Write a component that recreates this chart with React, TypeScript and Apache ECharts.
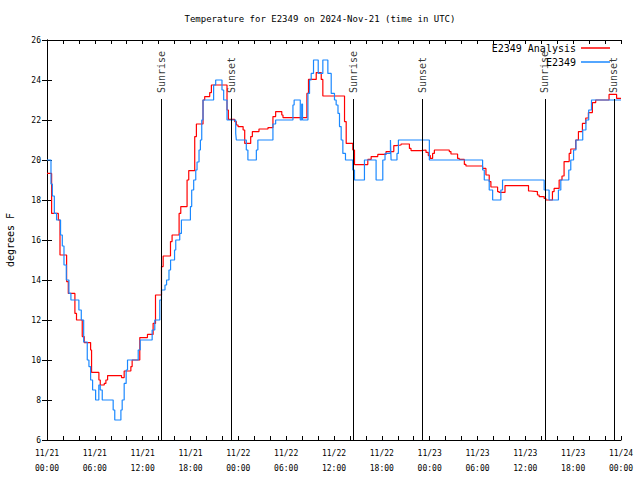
import React, { useEffect, useRef } from "react";
import * as echarts from "echarts";

// Hours since 2024-11-21 00:00 UTC and temperatures (deg F)
const obsHours = [
  0, 0.5, 0.67, 0.92, 1.2, 1.7, 1.92, 2.13, 2.42, 2.75, 3.0, 4.0, 4.3, 4.6, 5.05, 5.26, 5.47, 5.72, 6.1, 6.5,
  6.68, 6.93, 8.3, 8.5, 9.27, 9.43, 9.68, 9.93, 10.1, 11.44, 11.69, 13.19, 13.52, 14.15, 14.36, 14.8, 15.0, 15.3, 15.5, 16.0,
  16.15, 16.65, 16.86, 17.99, 18.15, 18.4, 18.66, 18.82, 19.07, 19.24, 19.41, 19.57, 20.9, 21.16, 21.95, 22.16, 22.58, 23.67, 23.75, 25.0,
  25.2, 26.26, 26.45, 28.34, 28.68, 30.85, 31.0, 31.77, 31.95, 32.05, 32.73, 32.93, 33.14, 33.43, 34.02, 34.6, 35.23, 35.65, 36.06, 36.27,
  36.5, 36.69, 36.9, 37.11, 37.44, 38.36, 38.57, 39.82, 41.28, 42.12, 42.4, 43.08, 43.16, 43.9, 44.08, 47.96, 54.64, 54.85, 55.47, 55.9,
  56.93, 57.14, 62.36, 62.98, 64.15, 64.45, 65.45, 65.7, 66.05, 66.35, 67.2, 67.6, 67.95, 68.3, 72,
];
const obsTemps = [
  20, 18.8, 18.2, 17.33, 17, 16.25, 15.7, 14.75, 14, 13.33, 13, 12.5, 12, 10.9, 10, 9.67, 9, 8.5, 8, 8.75,
  8.5, 8, 7.5, 7, 7.5, 8, 8.83, 9.5, 10, 10.5, 11, 11.5, 12, 13, 13.5, 13.75, 14, 14.5, 15, 15.5,
  16, 16.33, 17, 17.67, 18.5, 19, 19.5, 19.9, 20.5, 21, 22, 23, 23.75, 24, 23.5, 23, 22, 21.33, 21, 20.5,
  20, 20.5, 21, 21.8, 22, 22.75, 23, 22, 22.8, 22, 23.33, 24, 24.33, 25, 24.33, 25, 24.33, 23.33, 23, 22.75,
  22.33, 21.67, 21, 20.33, 20, 19.5, 19, 20, 19, 20, 20.33, 21, 20, 20.33, 21, 20, 19.5, 19, 18.5, 18,
  18.5, 19, 18.5, 18, 18.5, 19, 19.5, 20, 20.5, 21, 21.5, 22, 22.5, 23, 23,
];

const anaHours = [
  0, 0.58, 1.42, 1.63, 2.46, 2.67, 3.5, 3.7, 4.42, 4.67, 5.47, 5.59, 6.51, 6.68, 7.18, 7.39, 7.6, 9.35, 9.68, 10.52,
  10.68, 11.64, 12.6, 13.31, 13.61, 14.36, 14.57, 15.49, 15.69, 16.57, 16.78, 17.57, 17.78, 18.53, 18.74, 19.57, 19.78, 20.41, 20.62, 22.58,
  22.75, 23.54, 23.75, 23.96, 24.6, 24.8, 25.55, 25.76, 26.59, 27.72, 28.34, 28.68, 29.45, 29.6, 32.6, 32.8, 33.77, 34.4, 34.6, 37.32,
  37.53, 38.36, 38.57, 40.24, 40.66, 41.49, 42.53, 43.5, 43.79, 44.41, 45.46, 45.66, 46.92, 47.54, 47.83, 48.08, 48.37, 48.59, 50.46, 50.67,
  51.5, 51.71, 52.35, 52.55, 54.64, 55.06, 55.47, 55.68, 56.52, 56.7, 57.45, 60.4, 60.69, 61.52, 61.73, 62.36, 62.57, 63.4, 63.61, 64.24,
  64.6, 64.86, 65.5, 65.7, 66.32, 66.66, 67.16, 67.58, 67.91, 68.41, 68.83, 70.5, 71.45, 72,
];
const anaTemps = [
  19.33, 17.33, 17, 15.25, 13.92, 13.33, 12.33, 12, 11.17, 10.87, 10.5, 9.38, 9.0, 8.75, 8.83, 9.0, 9.22, 9.12, 9.45, 9.67,
  10, 11.12, 11.28, 11.83, 13.25, 14.67, 15.2, 15.92, 16.25, 17.33, 17.67, 19, 19.47, 21.17, 21.8, 23, 23.17, 23.37, 23.75, 22.5,
  22.03, 21.92, 21.75, 21.67, 21.5, 20.83, 21.17, 21.42, 21.55, 21.62, 22.17, 22.42, 22.25, 22.12, 23.33, 24.03, 24.37, 24.03, 23.2, 21.92,
  20.83, 20.5, 19.77, 20.03, 20.17, 20.28, 20.42, 20.72, 20.75, 20.8, 20.58, 20.47, 20.5, 20.38, 20.22, 20.08, 20.33, 20.5, 20.42, 20.3,
  20.08, 20.03, 19.78, 19.7, 19.58, 19.25, 18.92, 18.65, 18.42, 18.38, 18.72, 18.45, 18.42, 18.25, 18.17, 18.08, 18, 18.42, 18.58, 19,
  19.2, 19.92, 20.33, 20.55, 21, 21.42, 21.83, 22.1, 22.37, 22.87, 23, 23.28, 23.08, 23.08,
];

const eventNames = ["Sunrise", "Sunset", "Sunrise", "Sunset", "Sunrise", "Sunset"];
const eventHours = [14.33, 23.15, 38.42, 47.08, 62.45, 71.12];
const eventTop = 23.05;

const Y_MIN = 6;
const Y_MAX = 26;
const Y_STEP = 2;
const X_MIN = 0;
const X_MAX = 72;
const X_STEP = 2;

const MONO = "DejaVu Sans Mono";

function pad(n: number) {
  return n < 10 ? "0" + n : "" + n;
}

function xLabel(v: number) {
  if (Math.abs(v % 6) > 1e-6) return "";
  const day = 21 + Math.floor(v / 24);
  const hh = Math.round(v % 24);
  return `11/${day}\n${pad(hh)}:00`;
}

export default function App() {
  const ref = useRef<HTMLDivElement>(null);
  useEffect(() => {
    if (!ref.current) return;
    const chart = echarts.init(ref.current, null, { renderer: "svg" });
    const axisLine = { show: true, lineStyle: { color: "#000", width: 1 } };
    const obsData = obsHours.map((h, i) => [h, obsTemps[i]]);
    const anaData = anaHours.map((h, i) => [h, anaTemps[i]]);
    const evLines = eventHours.map((h) => [
      { coord: [h, Y_MIN] },
      { coord: [h, eventTop] },
    ]);
    const evLabels = eventHours.map((h, i) => ({ value: [h, eventTop], name: eventNames[i] }));
    chart.setOption({
      animation: false,
      backgroundColor: "#fff",
      title: {
        text: "Temperature for E2349 on 2024-Nov-21 (time in UTC)",
        left: "center",
        top: 14,
        padding: 0,
        textStyle: { fontFamily: MONO, fontSize: 9, fontWeight: "normal", color: "#000" },
      },
      legend: [
        {
          data: ["E2349 Analysis"],
          right: 30,
          top: 43,
          padding: 0,
          align: "right",
          icon: "rect",
          itemWidth: 29,
          itemHeight: 1.5,
          selectedMode: false,
          textStyle: { fontFamily: MONO, fontSize: 10, color: "#000" },
        },
        {
          data: ["E2349"],
          right: 30,
          top: 57,
          padding: 0,
          align: "right",
          icon: "rect",
          itemWidth: 29,
          itemHeight: 1.5,
          selectedMode: false,
          textStyle: { fontFamily: MONO, fontSize: 10, color: "#000" },
        },
      ],
      grid: { left: 47, right: 19, top: 40, bottom: 40, containLabel: false, outerBoundsMode: "none" },
      xAxis: [
        {
          type: "value",
          min: X_MIN,
          max: X_MAX,
          interval: X_STEP,
          axisLine,
          axisTick: { show: true, inside: true, length: 4, lineStyle: { color: "#000" } },
          splitLine: { show: false },
          axisLabel: {
            formatter: xLabel,
            fontFamily: MONO,
            fontSize: 8,
            lineHeight: 15,
            margin: 6,
            color: "#000",
            showMinLabel: true,
            showMaxLabel: true,
          },
        },
        {
          type: "value",
          position: "top",
          min: X_MIN,
          max: X_MAX,
          interval: X_STEP,
          axisLine,
          axisTick: { show: true, inside: true, length: 4, lineStyle: { color: "#000" } },
          splitLine: { show: false },
          axisLabel: { show: false },
        },
      ],
      yAxis: [
        {
          type: "value",
          min: Y_MIN,
          max: Y_MAX,
          interval: Y_STEP,
          name: "degrees F",
          nameLocation: "middle",
          nameGap: 32,
          nameTextStyle: { fontFamily: MONO, fontSize: 10, color: "#000" },
          axisLine,
          axisTick: { show: true, inside: true, length: 5, lineStyle: { color: "#000" } },
          splitLine: { show: false },
          axisLabel: { fontFamily: MONO, fontSize: 8, margin: 6, color: "#000" },
        },
        {
          type: "value",
          position: "right",
          min: Y_MIN,
          max: Y_MAX,
          interval: Y_STEP,
          axisLine,
          axisTick: { show: true, inside: true, length: 5, lineStyle: { color: "#000" } },
          splitLine: { show: false },
          axisLabel: { show: false },
        },
      ],
      series: [
        {
          name: "events",
          type: "scatter",
          data: evLabels,
          symbolSize: 0,
          silent: true,
          label: {
            show: true,
            formatter: (p: any) => p.name,
            position: "top",
            distance: 6,
            rotate: 90,
            align: "left",
            verticalAlign: "middle",
            fontFamily: MONO,
            fontSize: 10,
            color: "#000",
          },
          markLine: {
            silent: true,
            symbol: ["none", "none"],
            label: { show: false },
            lineStyle: { color: "#000", width: 1, type: "solid" },
            data: evLines,
          },
        },
        {
          name: "E2349 Analysis",
          type: "line",
          step: "end",
          data: anaData,
          showSymbol: false,
          symbol: "none",
          color: "#ff0000",
          lineStyle: { color: "#ff0000", width: 1.2 },
        },
        {
          name: "E2349",
          type: "line",
          step: "end",
          data: obsData,
          showSymbol: false,
          symbol: "none",
          color: "#1a88ff",
          lineStyle: { color: "#1a88ff", width: 1.2 },
        },
      ],
    });
    return () => chart.dispose();
  }, []);
  return (
    <div
      ref={ref}
      style={{ position: "fixed", left: 0, top: 0, width: 640, height: 480, background: "#fff" }}
    />
  );
}
